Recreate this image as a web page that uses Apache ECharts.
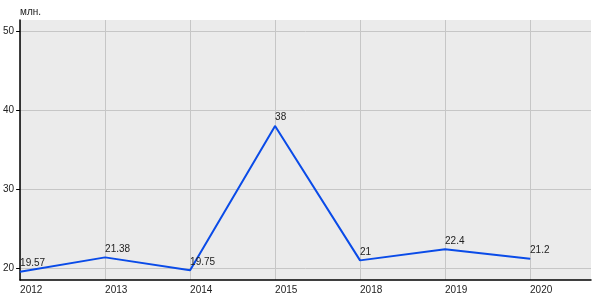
<!DOCTYPE html>
<html>
<head>
<meta charset="utf-8">
<script src="https://cdn.jsdelivr.net/npm/echarts@6/dist/echarts.min.js"></script>
<style>html,body{margin:0;padding:0;background:#fff}#c{width:600px;height:300px}</style>
</head>
<body>
<div id="c"></div>
<script>
var categories = ['2012', '2013', '2014', '2015', '2018', '2019', '2020'];
var values = [19.57, 21.38, 19.75, 38, 21, 22.4, 21.2];
var yTicks = [20, 30, 40, 50];
var unitLabel = 'млн.';

var xTicks = categories.map(function (c, i) { return i; });
var seriesData = values.map(function (v, i) { return [i, v]; });

var chart = echarts.init(document.getElementById('c'), null, { renderer: 'canvas' });
var font = 'Liberation Sans, Arial, sans-serif';
chart.setOption({
  animation: false,
  backgroundColor: '#ffffff',
  title: {
    text: unitLabel, left: 20, top: 7, padding: 0,
    textStyle: { fontSize: 10, fontWeight: 'normal', color: '#222', fontFamily: font }
  },
  grid: {
    left: 20, right: 9, top: 20, bottom: 20,
    show: true, backgroundColor: '#ebebeb', borderWidth: 0
  },
  xAxis: {
    type: 'value', min: 0, max: 6.7176,
    axisLine: { show: true, onZero: false, lineStyle: { color: '#000', width: 1.5 } },
    axisTick: { show: false, customValues: xTicks },
    axisLabel: {
      customValues: xTicks, align: 'left', margin: 5,
      fontSize: 10, color: '#222', fontFamily: font,
      formatter: function (v) { return categories[Math.round(v)] || ''; }
    },
    splitLine: { show: true, lineStyle: { color: '#c6c6c6', width: 1 } }
  },
  yAxis: {
    type: 'value', min: 18.52, max: 51.39,
    axisLine: { show: true, onZero: false, lineStyle: { color: '#000', width: 1.5 } },
    axisTick: { show: true, inside: false, length: 4, customValues: yTicks, lineStyle: { color: '#000' } },
    axisLabel: {
      customValues: yTicks, margin: 6, fontSize: 10, color: '#222', fontFamily: font,
      verticalAlign: 'middle', padding: [0, 0, 6, 0]
    },
    splitLine: { show: true, lineStyle: { color: '#c6c6c6', width: 1 } }
  },
  series: [{
    type: 'line',
    data: seriesData,
    symbol: 'circle', symbolSize: 1,
    itemStyle: { color: '#0a4be8' },
    lineStyle: { color: '#0a4be8', width: 2 },
    label: {
      show: true, position: 'top', distance: 3, align: 'left',
      fontSize: 10, color: '#222', fontFamily: font,
      formatter: function (p) { return String(p.value[1]); }
    }
  }]
});
</script>
</body>
</html>
